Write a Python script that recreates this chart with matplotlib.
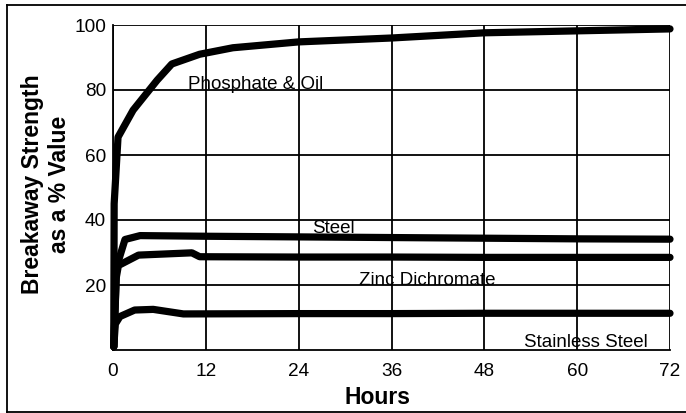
import numpy as np
import matplotlib
matplotlib.use("Agg")
import matplotlib.pyplot as plt
from matplotlib.lines import Line2D

plt.rcParams['font.family'] = ['Liberation Sans', 'DejaVu Sans']

# data
phos_h = [0.1, 0.15, 0.65, 2.6, 5.7, 7.6, 11.2, 15.5, 24, 36, 48, 60, 72]
phos_v = [1, 45, 65.5, 73.8, 83, 88, 91, 93, 94.8, 96.0, 97.6, 98.2, 98.8]

steel_h = [0.1, 0.47, 1.55, 3.5, 12, 24, 36, 48, 60, 72]
steel_v = [1, 25.6, 34.0, 35.2, 35.0, 34.8, 34.6, 34.4, 34.2, 34.1]

zinc_h = [0.1, 0.4, 0.7, 3.3, 10.2, 11.2, 24, 36, 48, 60, 72]
zinc_v = [1, 22, 26, 29.2, 29.9, 28.7, 28.6, 28.6, 28.5, 28.5, 28.5]

stain_h = [0.1, 0.3, 0.9, 2.8, 5.2, 9.1, 24, 36, 48, 60, 72]
stain_v = [1, 8, 10.3, 12.3, 12.5, 11.1, 11.2, 11.2, 11.3, 11.3, 11.3]

xticks = [0, 12, 24, 36, 48, 60, 72]
yticks = [20, 40, 60, 80, 100]

labels = ["Phosphate & Oil", "Steel", "Zinc Dichromate", "Stainless Steel"]
label_pos = [(9.7, 80.2), (25.7, 36.0), (31.8, 20.0), (53.1, 0.9)]

fig = plt.figure(figsize=(6.86, 4.13), dpi=100)
ax = fig.add_axes([113/686, 1-350/413, (670-113)/686, (350-25)/413])

for h, v in [(phos_h, phos_v), (steel_h, steel_v), (zinc_h, zinc_v), (stain_h, stain_v)]:
    ax.plot(h, v, color='black', lw=5.2, solid_capstyle='round',
            solid_joinstyle='round', clip_on=False, zorder=3)

for txt, (x, y) in zip(labels, label_pos):
    ax.text(x, y, txt, fontsize=13.5, va='baseline', ha='left', zorder=4)

ax.set_xlim(0, 72)
ax.set_ylim(0, 100)
ax.set_xticks(xticks)
ax.set_yticks(yticks)
ax.tick_params(axis='both', length=0, labelsize=13.7)
ax.tick_params(axis='x', pad=9)
ax.tick_params(axis='y', pad=5)
ax.grid(True, color='black', lw=1.3)
ax.set_axisbelow(True)
for s in ['top', 'right']:
    ax.spines[s].set_visible(False)
for s in ['left', 'bottom']:
    ax.spines[s].set_linewidth(1.3)

fig.text(378/686, 1-398/413, "Hours", fontsize=16.5, fontweight='bold',
         ha='center', va='center')
fig.text(46/686, 0.554, "Breakaway Strength\nas a % Value", fontsize=16.5,
         fontweight='bold', rotation=90, ha='center', va='center',
         multialignment='center', linespacing=1.25)

# outer frame (right side is cut off in the original)
fl, ft, fb = 7/686, 1-5/413, 1-412/413
for xs, ys in [([fl, fl], [fb, ft]), ([fl, 1.0], [ft, ft]), ([fl, 1.0], [fb, fb])]:
    fig.add_artist(Line2D(xs, ys, color='black', lw=1.3, transform=fig.transFigure))

fig.savefig("out.png", dpi=100)
